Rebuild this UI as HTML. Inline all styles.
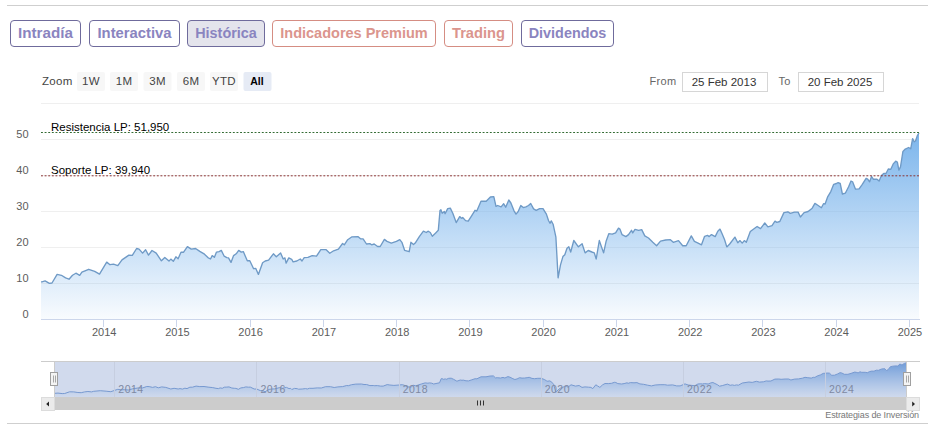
<!DOCTYPE html>
<html><head><meta charset="utf-8">
<style>
html,body{margin:0;padding:0;background:#fff;}
body{width:939px;height:433px;position:relative;overflow:hidden;font-family:"Liberation Sans",sans-serif;}
.hr{position:absolute;left:7px;width:921px;height:1px;background:#cfcfcf;}
.tab{position:absolute;top:20px;height:25px;box-sizing:content-box;border:1px solid #6f6b9c;border-radius:4px;
 font-weight:bold;font-size:15px;line-height:24px;text-align:center;color:#8a84c0;background:#fff;letter-spacing:0;}
.tab.sal{border-color:#d58d83;color:#db958d;}
.tab.act{background:#e4e4ec;}
svg{position:absolute;left:0;top:0;}
.ax{font-size:11px;fill:#5c5c5c;letter-spacing:0;}
.nv{font-size:10.5px;fill:#7f89a2;letter-spacing:0.5px;}
.rs{font-size:11.5px;fill:#444;letter-spacing:0.3px;}
.dt{font-size:11.5px;fill:#333;letter-spacing:0;}
.ft{font-size:11px;fill:#666;letter-spacing:0.3px;}
.pl{font-size:11.5px;fill:#000;letter-spacing:0;}
</style></head><body>
<div class="hr" style="top:5px"></div>
<div class="hr" style="top:423px"></div>
<div class="tab" style="left:10px;width:69px;font-size:15.2px">Intradía</div>
<div class="tab" style="left:89px;width:89px;font-size:14.8px">Interactiva</div>
<div class="tab act" style="left:187px;width:76px;font-size:14.4px">Histórica</div>
<div class="tab sal" style="left:272px;width:162px;font-size:14.5px">Indicadores Premium</div>
<div class="tab sal" style="left:444px;width:67px;font-size:14.7px">Trading</div>
<div class="tab" style="left:521px;width:91px;font-size:14.4px">Dividendos</div>
<svg width="939" height="433" viewBox="0 0 939 433" font-family="Liberation Sans, sans-serif">
<defs>
<linearGradient id="g" x1="0" y1="133" x2="0" y2="319" gradientUnits="userSpaceOnUse">
<stop offset="0" stop-color="#7cb5ec" stop-opacity="1"/>
<stop offset="1" stop-color="#7cb5ec" stop-opacity="0.05"/>
</linearGradient>
<linearGradient id="ng" x1="0" y1="361" x2="0" y2="397" gradientUnits="userSpaceOnUse">
<stop offset="0" stop-color="#5f97dc" stop-opacity="0.9"/>
<stop offset="1" stop-color="#7cb5ec" stop-opacity="0.02"/>
</linearGradient>
</defs>
<!-- range selector -->
<text x="42" y="85" class="rs">Zoom</text>
<g>
<rect x="77" y="72" width="28" height="19" rx="2" fill="#f7f7f7"/>
<rect x="110" y="72" width="28" height="19" rx="2" fill="#f7f7f7"/>
<rect x="143.5" y="72" width="28" height="19" rx="2" fill="#f7f7f7"/>
<rect x="177" y="72" width="28" height="19" rx="2" fill="#f7f7f7"/>
<rect x="210" y="72" width="28" height="19" rx="2" fill="#f7f7f7"/>
<rect x="243.5" y="72" width="28" height="19" rx="2" fill="#e6ebf5"/>
<text x="91" y="85" text-anchor="middle" class="rs">1W</text>
<text x="124" y="85" text-anchor="middle" class="rs">1M</text>
<text x="157.5" y="85" text-anchor="middle" class="rs">3M</text>
<text x="191" y="85" text-anchor="middle" class="rs">6M</text>
<text x="224" y="85" text-anchor="middle" class="rs">YTD</text>
<text x="257" y="85" text-anchor="middle" class="rs" style="font-weight:bold;fill:#000;letter-spacing:0;font-size:10.5px">All</text>
</g>
<text x="649.5" y="85" class="ft">From</text>
<rect x="682.5" y="72.5" width="85" height="19" fill="#fff" stroke="#d6d6d6"/>
<text x="724" y="85.5" text-anchor="middle" class="dt">25 Feb 2013</text>
<text x="778.5" y="85" class="ft">To</text>
<rect x="798.5" y="72.5" width="85" height="19" fill="#fff" stroke="#d6d6d6"/>
<text x="840" y="85.5" text-anchor="middle" class="dt">20 Feb 2025</text>
<!-- grid -->
<rect x="41" y="103" width="878" height="1" fill="#efefef"/>
<rect x="41" y="139" width="878" height="1" fill="#efefef"/>
<rect x="41" y="175" width="878" height="1" fill="#efefef"/>
<rect x="41" y="211" width="878" height="1" fill="#efefef"/>
<rect x="41" y="247" width="878" height="1" fill="#efefef"/>
<rect x="41" y="283" width="878" height="1" fill="#efefef"/>

<text x="28.6" y="137.5" text-anchor="end" class="ax">50</text>
<text x="28.6" y="173.5" text-anchor="end" class="ax">40</text>
<text x="28.6" y="209.5" text-anchor="end" class="ax">30</text>
<text x="28.6" y="245.5" text-anchor="end" class="ax">20</text>
<text x="28.6" y="281.5" text-anchor="end" class="ax">10</text>
<text x="28.6" y="317.5" text-anchor="end" class="ax">0</text>

<!-- series -->
<path d="M41.0 281.8 L42.0 281.8 L45.1 280.9 L49.4 283.3 L52.0 283.0 L57.1 274.4 L61.4 275.3 L65.6 277.9 L69.0 279.2 L72.5 275.3 L75.9 273.2 L79.7 275.3 L81.9 272.2 L88.7 269.3 L94.7 271.4 L99.5 274.1 L106.7 262.1 L110.0 264.7 L113.5 264.2 L117.8 265.6 L122.0 259.9 L128.9 255.1 L132.3 255.3 L136.6 248.5 L139.1 249.1 L142.6 253.1 L145.6 249.7 L148.5 255.1 L152.0 250.5 L156.2 253.1 L161.4 260.8 L164.8 257.4 L169.0 261.1 L170.8 259.1 L173.3 261.3 L175.9 256.8 L178.1 258.7 L181.0 252.2 L183.6 252.2 L187.4 246.6 L191.3 249.1 L195.6 248.5 L199.8 251.4 L204.5 254.2 L207.9 257.6 L210.5 259.0 L212.2 255.6 L214.4 257.3 L216.5 252.1 L219.1 251.6 L221.3 250.4 L224.2 256.2 L226.8 257.6 L228.5 257.9 L231.0 262.4 L233.6 255.6 L236.2 253.8 L238.7 250.4 L241.3 252.1 L243.3 251.6 L247.3 260.7 L249.8 260.7 L253.6 268.7 L255.8 268.4 L258.4 274.4 L262.6 262.7 L265.2 261.0 L268.6 260.2 L273.4 253.8 L276.3 256.8 L280.6 253.0 L283.2 259.0 L284.9 257.9 L286.1 263.1 L288.8 257.9 L291.7 259.3 L293.1 261.9 L296.8 261.0 L300.3 259.0 L302.0 261.0 L304.2 257.6 L307.9 257.3 L312.2 255.6 L316.5 256.2 L320.8 249.6 L325.9 249.6 L329.8 253.3 L333.6 250.8 L338.4 249.1 L342.6 243.5 L344.3 244.8 L347.7 239.7 L352.0 236.8 L357.9 236.6 L360.5 238.8 L363.1 238.8 L366.5 244.0 L369.9 243.6 L371.6 244.8 L374.2 244.0 L377.6 246.5 L380.2 246.5 L384.4 239.4 L387.0 241.4 L391.3 243.1 L396.4 241.4 L399.8 239.7 L401.9 242.3 L404.6 250.3 L409.2 251.7 L410.9 242.3 L413.5 244.5 L415.2 243.1 L419.5 236.3 L423.4 231.2 L426.3 232.5 L428.0 231.2 L430.3 232.5 L432.3 236.3 L435.7 232.9 L438.3 230.3 L440.0 210.6 L440.9 209.8 L442.2 213.2 L444.3 211.5 L445.1 213.7 L447.7 208.6 L450.3 208.1 L452.8 213.2 L456.2 222.6 L459.7 216.6 L461.4 218.3 L462.7 217.5 L465.6 220.6 L468.2 221.2 L471.6 215.8 L475.0 210.3 L476.8 211.0 L481.0 201.2 L486.2 201.2 L490.4 197.0 L493.8 196.6 L496.0 206.4 L497.7 205.5 L501.1 206.9 L503.7 203.8 L505.7 207.2 L508.8 200.0 L510.9 203.0 L513.9 210.6 L516.0 214.1 L518.2 211.5 L520.8 205.5 L523.3 207.6 L525.9 206.9 L528.5 205.5 L530.7 203.5 L533.6 208.9 L536.2 210.3 L539.6 208.6 L543.0 208.6 L546.4 214.1 L548.5 220.5 L550.0 223.3 L551.3 220.9 L553.1 224.2 L555.9 237.2 L558.1 277.8 L560.5 264.9 L562.9 256.6 L564.8 254.7 L567.0 248.3 L568.8 246.8 L570.7 252.0 L573.8 240.5 L578.4 246.8 L582.1 243.7 L585.1 252.9 L588.2 250.5 L591.9 252.0 L594.3 252.9 L596.2 259.0 L599.3 240.5 L601.1 245.7 L603.6 252.9 L606.2 240.9 L608.8 233.7 L612.2 234.2 L615.6 232.9 L618.5 228.1 L619.9 229.1 L622.0 234.6 L625.9 236.6 L628.5 234.6 L631.5 230.3 L632.7 232.9 L635.0 229.4 L638.7 230.3 L641.7 229.6 L644.8 235.9 L648.5 238.0 L652.8 242.3 L656.6 245.7 L660.5 241.1 L665.6 240.0 L670.4 239.7 L673.3 242.3 L678.5 240.6 L682.7 245.7 L686.2 245.7 L691.3 235.9 L694.4 241.4 L698.1 243.1 L701.5 244.8 L704.6 236.3 L707.5 235.4 L709.2 236.6 L711.5 234.6 L715.2 236.6 L717.8 231.2 L720.0 229.1 L722.1 233.7 L724.6 239.7 L726.8 246.9 L729.7 244.0 L734.9 237.1 L737.8 242.8 L740.0 240.6 L742.2 243.1 L744.3 240.6 L746.3 242.3 L750.3 231.5 L757.1 226.5 L760.5 228.6 L764.8 223.0 L767.9 226.9 L772.0 225.7 L775.0 221.2 L776.8 222.3 L779.8 221.5 L783.9 212.6 L787.9 211.8 L790.3 213.4 L794.4 212.1 L798.1 212.1 L800.4 217.0 L804.1 212.6 L808.1 211.5 L812.2 208.2 L814.9 203.4 L817.8 205.3 L821.4 207.7 L823.5 203.7 L825.1 204.0 L827.5 197.2 L830.8 191.6 L833.7 184.3 L836.4 183.5 L838.1 182.7 L840.2 183.5 L842.4 194.0 L845.3 193.2 L848.6 186.7 L851.0 181.0 L852.6 181.8 L855.4 189.1 L859.1 188.8 L862.3 184.3 L866.1 178.3 L867.7 179.1 L869.6 181.8 L871.6 176.5 L873.3 179.2 L877.0 179.2 L879.1 181.0 L881.5 175.5 L883.7 173.4 L886.0 173.5 L888.3 169.0 L890.8 169.3 L893.2 163.9 L895.7 161.2 L897.3 162.0 L898.9 170.1 L900.5 166.9 L902.9 151.5 L905.3 149.1 L908.6 147.5 L910.7 148.8 L912.6 138.6 L914.2 141.8 L915.5 141.0 L917.5 135.3 L919.0 133.0 L919 319.5 L41 319.5 Z" fill="url(#g)"/>
<path d="M41.0 281.8 L42.0 281.8 L45.1 280.9 L49.4 283.3 L52.0 283.0 L57.1 274.4 L61.4 275.3 L65.6 277.9 L69.0 279.2 L72.5 275.3 L75.9 273.2 L79.7 275.3 L81.9 272.2 L88.7 269.3 L94.7 271.4 L99.5 274.1 L106.7 262.1 L110.0 264.7 L113.5 264.2 L117.8 265.6 L122.0 259.9 L128.9 255.1 L132.3 255.3 L136.6 248.5 L139.1 249.1 L142.6 253.1 L145.6 249.7 L148.5 255.1 L152.0 250.5 L156.2 253.1 L161.4 260.8 L164.8 257.4 L169.0 261.1 L170.8 259.1 L173.3 261.3 L175.9 256.8 L178.1 258.7 L181.0 252.2 L183.6 252.2 L187.4 246.6 L191.3 249.1 L195.6 248.5 L199.8 251.4 L204.5 254.2 L207.9 257.6 L210.5 259.0 L212.2 255.6 L214.4 257.3 L216.5 252.1 L219.1 251.6 L221.3 250.4 L224.2 256.2 L226.8 257.6 L228.5 257.9 L231.0 262.4 L233.6 255.6 L236.2 253.8 L238.7 250.4 L241.3 252.1 L243.3 251.6 L247.3 260.7 L249.8 260.7 L253.6 268.7 L255.8 268.4 L258.4 274.4 L262.6 262.7 L265.2 261.0 L268.6 260.2 L273.4 253.8 L276.3 256.8 L280.6 253.0 L283.2 259.0 L284.9 257.9 L286.1 263.1 L288.8 257.9 L291.7 259.3 L293.1 261.9 L296.8 261.0 L300.3 259.0 L302.0 261.0 L304.2 257.6 L307.9 257.3 L312.2 255.6 L316.5 256.2 L320.8 249.6 L325.9 249.6 L329.8 253.3 L333.6 250.8 L338.4 249.1 L342.6 243.5 L344.3 244.8 L347.7 239.7 L352.0 236.8 L357.9 236.6 L360.5 238.8 L363.1 238.8 L366.5 244.0 L369.9 243.6 L371.6 244.8 L374.2 244.0 L377.6 246.5 L380.2 246.5 L384.4 239.4 L387.0 241.4 L391.3 243.1 L396.4 241.4 L399.8 239.7 L401.9 242.3 L404.6 250.3 L409.2 251.7 L410.9 242.3 L413.5 244.5 L415.2 243.1 L419.5 236.3 L423.4 231.2 L426.3 232.5 L428.0 231.2 L430.3 232.5 L432.3 236.3 L435.7 232.9 L438.3 230.3 L440.0 210.6 L440.9 209.8 L442.2 213.2 L444.3 211.5 L445.1 213.7 L447.7 208.6 L450.3 208.1 L452.8 213.2 L456.2 222.6 L459.7 216.6 L461.4 218.3 L462.7 217.5 L465.6 220.6 L468.2 221.2 L471.6 215.8 L475.0 210.3 L476.8 211.0 L481.0 201.2 L486.2 201.2 L490.4 197.0 L493.8 196.6 L496.0 206.4 L497.7 205.5 L501.1 206.9 L503.7 203.8 L505.7 207.2 L508.8 200.0 L510.9 203.0 L513.9 210.6 L516.0 214.1 L518.2 211.5 L520.8 205.5 L523.3 207.6 L525.9 206.9 L528.5 205.5 L530.7 203.5 L533.6 208.9 L536.2 210.3 L539.6 208.6 L543.0 208.6 L546.4 214.1 L548.5 220.5 L550.0 223.3 L551.3 220.9 L553.1 224.2 L555.9 237.2 L558.1 277.8 L560.5 264.9 L562.9 256.6 L564.8 254.7 L567.0 248.3 L568.8 246.8 L570.7 252.0 L573.8 240.5 L578.4 246.8 L582.1 243.7 L585.1 252.9 L588.2 250.5 L591.9 252.0 L594.3 252.9 L596.2 259.0 L599.3 240.5 L601.1 245.7 L603.6 252.9 L606.2 240.9 L608.8 233.7 L612.2 234.2 L615.6 232.9 L618.5 228.1 L619.9 229.1 L622.0 234.6 L625.9 236.6 L628.5 234.6 L631.5 230.3 L632.7 232.9 L635.0 229.4 L638.7 230.3 L641.7 229.6 L644.8 235.9 L648.5 238.0 L652.8 242.3 L656.6 245.7 L660.5 241.1 L665.6 240.0 L670.4 239.7 L673.3 242.3 L678.5 240.6 L682.7 245.7 L686.2 245.7 L691.3 235.9 L694.4 241.4 L698.1 243.1 L701.5 244.8 L704.6 236.3 L707.5 235.4 L709.2 236.6 L711.5 234.6 L715.2 236.6 L717.8 231.2 L720.0 229.1 L722.1 233.7 L724.6 239.7 L726.8 246.9 L729.7 244.0 L734.9 237.1 L737.8 242.8 L740.0 240.6 L742.2 243.1 L744.3 240.6 L746.3 242.3 L750.3 231.5 L757.1 226.5 L760.5 228.6 L764.8 223.0 L767.9 226.9 L772.0 225.7 L775.0 221.2 L776.8 222.3 L779.8 221.5 L783.9 212.6 L787.9 211.8 L790.3 213.4 L794.4 212.1 L798.1 212.1 L800.4 217.0 L804.1 212.6 L808.1 211.5 L812.2 208.2 L814.9 203.4 L817.8 205.3 L821.4 207.7 L823.5 203.7 L825.1 204.0 L827.5 197.2 L830.8 191.6 L833.7 184.3 L836.4 183.5 L838.1 182.7 L840.2 183.5 L842.4 194.0 L845.3 193.2 L848.6 186.7 L851.0 181.0 L852.6 181.8 L855.4 189.1 L859.1 188.8 L862.3 184.3 L866.1 178.3 L867.7 179.1 L869.6 181.8 L871.6 176.5 L873.3 179.2 L877.0 179.2 L879.1 181.0 L881.5 175.5 L883.7 173.4 L886.0 173.5 L888.3 169.0 L890.8 169.3 L893.2 163.9 L895.7 161.2 L897.3 162.0 L898.9 170.1 L900.5 166.9 L902.9 151.5 L905.3 149.1 L908.6 147.5 L910.7 148.8 L912.6 138.6 L914.2 141.8 L915.5 141.0 L917.5 135.3 L919.0 133.0" fill="none" stroke="#6f9ac6" stroke-width="1.35" stroke-linejoin="round"/>
<!-- plot lines -->
<line x1="41" y1="132.5" x2="919.5" y2="132.5" stroke="#336b33" stroke-width="1" stroke-dasharray="1.9,1.72"/>
<line x1="41" y1="175.8" x2="919.5" y2="175.8" stroke="#8c3434" stroke-width="1" stroke-dasharray="1.9,1.72"/>
<text x="51" y="130.7" class="pl">Resistencia LP: 51,950</text>
<text x="51" y="173.7" class="pl">Soporte LP: 39,940</text>
<!-- x axis -->
<rect x="41" y="319" width="879" height="1" fill="#ccd6eb"/>
<rect x="103" y="319" width="1" height="8" fill="#ccd6eb"/>
<text x="104.2" y="336" text-anchor="middle" class="ax">2014</text>
<rect x="176" y="319" width="1" height="8" fill="#ccd6eb"/>
<text x="177.4" y="336" text-anchor="middle" class="ax">2015</text>
<rect x="250" y="319" width="1" height="8" fill="#ccd6eb"/>
<text x="250.6" y="336" text-anchor="middle" class="ax">2016</text>
<rect x="323" y="319" width="1" height="8" fill="#ccd6eb"/>
<text x="324.0" y="336" text-anchor="middle" class="ax">2017</text>
<rect x="396" y="319" width="1" height="8" fill="#ccd6eb"/>
<text x="397.2" y="336" text-anchor="middle" class="ax">2018</text>
<rect x="469" y="319" width="1" height="8" fill="#ccd6eb"/>
<text x="470.4" y="336" text-anchor="middle" class="ax">2019</text>
<rect x="543" y="319" width="1" height="8" fill="#ccd6eb"/>
<text x="543.6" y="336" text-anchor="middle" class="ax">2020</text>
<rect x="616" y="319" width="1" height="8" fill="#ccd6eb"/>
<text x="617.0" y="336" text-anchor="middle" class="ax">2021</text>
<rect x="689" y="319" width="1" height="8" fill="#ccd6eb"/>
<text x="690.2" y="336" text-anchor="middle" class="ax">2022</text>
<rect x="762" y="319" width="1" height="8" fill="#ccd6eb"/>
<text x="763.4" y="336" text-anchor="middle" class="ax">2023</text>
<rect x="836" y="319" width="1" height="8" fill="#ccd6eb"/>
<text x="836.6" y="336" text-anchor="middle" class="ax">2024</text>
<rect x="909" y="319" width="1" height="8" fill="#ccd6eb"/>
<text x="910.0" y="336" text-anchor="middle" class="ax">2025</text>

<!-- navigator -->
<path d="M54.0 393.3 L55.0 393.3 L58.0 393.1 L62.2 393.6 L64.7 393.5 L69.6 391.8 L73.8 391.9 L77.9 392.5 L81.2 392.7 L84.6 391.9 L87.9 391.5 L91.6 391.9 L93.7 391.3 L100.3 390.7 L106.1 391.2 L110.8 391.7 L117.8 389.3 L121.0 389.8 L124.4 389.7 L128.5 390.0 L132.6 388.8 L139.3 387.8 L142.6 387.9 L146.8 386.5 L149.2 386.6 L152.6 387.4 L155.5 386.7 L158.3 387.8 L161.7 386.9 L165.8 387.4 L170.8 389.0 L174.1 388.3 L178.2 389.0 L180.0 388.6 L182.4 389.1 L184.9 388.2 L187.0 388.6 L189.9 387.2 L192.4 387.2 L196.1 386.1 L199.8 386.6 L204.0 386.5 L208.1 387.1 L212.7 387.6 L216.0 388.3 L218.5 388.6 L220.1 387.9 L222.3 388.3 L224.3 387.2 L226.8 387.1 L229.0 386.9 L231.8 388.0 L234.3 388.3 L235.9 388.4 L238.4 389.3 L240.9 387.9 L243.4 387.6 L245.8 386.9 L248.4 387.2 L250.3 387.1 L254.2 389.0 L256.6 389.0 L260.3 390.6 L262.4 390.5 L265.0 391.8 L269.0 389.4 L271.6 389.0 L274.9 388.9 L279.5 387.6 L282.3 388.2 L286.5 387.4 L289.0 388.6 L290.7 388.4 L291.8 389.5 L294.5 388.4 L297.3 388.7 L298.6 389.2 L302.2 389.0 L305.6 388.6 L307.3 389.0 L309.4 388.3 L313.0 388.3 L317.2 387.9 L321.3 388.0 L325.5 386.7 L330.5 386.7 L334.2 387.5 L337.9 386.9 L342.6 386.6 L346.7 385.5 L348.3 385.7 L351.6 384.7 L355.8 384.1 L361.5 384.0 L364.0 384.5 L366.6 384.5 L369.9 385.6 L373.2 385.5 L374.8 385.7 L377.3 385.6 L380.6 386.1 L383.2 386.1 L387.2 384.6 L389.8 385.0 L393.9 385.4 L398.9 385.0 L402.2 384.7 L404.2 385.2 L406.8 386.8 L411.3 387.1 L412.9 385.2 L415.5 385.7 L417.1 385.4 L421.3 384.0 L425.1 382.9 L427.9 383.2 L429.5 382.9 L431.8 383.2 L433.7 384.0 L437.0 383.3 L439.5 382.8 L441.2 378.7 L442.1 378.6 L443.3 379.3 L445.4 378.9 L446.1 379.4 L448.7 378.3 L451.2 378.2 L453.6 379.3 L456.9 381.2 L460.3 380.0 L462.0 380.3 L463.2 380.1 L466.0 380.8 L468.5 380.9 L471.8 379.8 L475.1 378.7 L476.9 378.8 L481.0 376.8 L486.0 376.8 L490.1 376.0 L493.4 375.9 L495.5 377.9 L497.2 377.7 L500.5 378.0 L503.0 377.4 L504.9 378.0 L507.9 376.6 L510.0 377.2 L512.9 378.7 L514.9 379.5 L517.1 378.9 L519.6 377.7 L522.0 378.1 L524.5 378.0 L527.1 377.7 L529.2 377.3 L532.0 378.4 L534.5 378.7 L537.8 378.3 L541.1 378.3 L544.4 379.5 L546.5 380.8 L547.9 381.3 L549.2 380.8 L550.9 381.5 L553.7 384.2 L555.8 392.5 L558.1 389.8 L560.4 388.1 L562.3 387.7 L564.4 386.4 L566.2 386.1 L568.0 387.2 L571.0 384.8 L575.5 386.1 L579.1 385.5 L582.0 387.4 L585.0 386.9 L588.6 387.2 L590.9 387.4 L592.8 388.6 L595.8 384.8 L597.5 385.9 L599.9 387.4 L602.5 384.9 L605.0 383.5 L608.3 383.6 L611.6 383.3 L614.4 382.3 L615.8 382.5 L617.8 383.6 L621.6 384.0 L624.1 383.6 L627.0 382.8 L628.2 383.3 L630.4 382.6 L634.0 382.8 L636.9 382.6 L639.9 383.9 L643.5 384.3 L647.7 385.2 L651.4 385.9 L655.2 385.0 L660.1 384.7 L664.8 384.7 L667.6 385.2 L672.6 384.9 L676.7 385.9 L680.1 385.9 L685.0 383.9 L688.1 385.0 L691.6 385.4 L694.9 385.7 L697.9 384.0 L700.8 383.8 L702.4 384.0 L704.6 383.6 L708.2 384.0 L710.8 382.9 L712.9 382.5 L714.9 383.5 L717.4 384.7 L719.5 386.2 L722.3 385.6 L727.4 384.1 L730.2 385.3 L732.3 384.9 L734.4 385.4 L736.5 384.9 L738.4 385.2 L742.3 383.0 L748.9 382.0 L752.2 382.4 L756.4 381.3 L759.4 382.1 L763.4 381.8 L766.3 380.9 L768.0 381.1 L770.9 381.0 L774.9 379.1 L778.8 379.0 L781.1 379.3 L785.1 379.0 L788.7 379.0 L790.9 380.0 L794.5 379.1 L798.4 378.9 L802.4 378.2 L805.0 377.3 L807.8 377.7 L811.3 378.1 L813.3 377.3 L814.9 377.4 L817.2 376.0 L820.4 374.9 L823.2 373.4 L825.8 373.2 L827.5 373.0 L829.5 373.2 L831.7 375.3 L834.5 375.2 L837.7 373.9 L840.0 372.7 L841.6 372.9 L844.3 374.3 L847.9 374.3 L851.0 373.4 L854.7 372.1 L856.2 372.3 L858.1 372.9 L860.0 371.8 L861.7 372.3 L865.2 372.3 L867.3 372.7 L869.6 371.6 L871.7 371.1 L874.0 371.2 L876.2 370.2 L878.6 370.3 L881.0 369.2 L883.4 368.7 L884.9 368.8 L886.5 370.5 L888.0 369.8 L890.4 366.7 L892.7 366.2 L895.9 365.9 L897.9 366.1 L899.8 364.0 L901.3 364.7 L902.6 364.5 L904.5 363.4 L906.0 362.9 L906.0 397 L54.0 397 Z" fill="url(#ng)"/>
<path d="M54.0 393.3 L55.0 393.3 L58.0 393.1 L62.2 393.6 L64.7 393.5 L69.6 391.8 L73.8 391.9 L77.9 392.5 L81.2 392.7 L84.6 391.9 L87.9 391.5 L91.6 391.9 L93.7 391.3 L100.3 390.7 L106.1 391.2 L110.8 391.7 L117.8 389.3 L121.0 389.8 L124.4 389.7 L128.5 390.0 L132.6 388.8 L139.3 387.8 L142.6 387.9 L146.8 386.5 L149.2 386.6 L152.6 387.4 L155.5 386.7 L158.3 387.8 L161.7 386.9 L165.8 387.4 L170.8 389.0 L174.1 388.3 L178.2 389.0 L180.0 388.6 L182.4 389.1 L184.9 388.2 L187.0 388.6 L189.9 387.2 L192.4 387.2 L196.1 386.1 L199.8 386.6 L204.0 386.5 L208.1 387.1 L212.7 387.6 L216.0 388.3 L218.5 388.6 L220.1 387.9 L222.3 388.3 L224.3 387.2 L226.8 387.1 L229.0 386.9 L231.8 388.0 L234.3 388.3 L235.9 388.4 L238.4 389.3 L240.9 387.9 L243.4 387.6 L245.8 386.9 L248.4 387.2 L250.3 387.1 L254.2 389.0 L256.6 389.0 L260.3 390.6 L262.4 390.5 L265.0 391.8 L269.0 389.4 L271.6 389.0 L274.9 388.9 L279.5 387.6 L282.3 388.2 L286.5 387.4 L289.0 388.6 L290.7 388.4 L291.8 389.5 L294.5 388.4 L297.3 388.7 L298.6 389.2 L302.2 389.0 L305.6 388.6 L307.3 389.0 L309.4 388.3 L313.0 388.3 L317.2 387.9 L321.3 388.0 L325.5 386.7 L330.5 386.7 L334.2 387.5 L337.9 386.9 L342.6 386.6 L346.7 385.5 L348.3 385.7 L351.6 384.7 L355.8 384.1 L361.5 384.0 L364.0 384.5 L366.6 384.5 L369.9 385.6 L373.2 385.5 L374.8 385.7 L377.3 385.6 L380.6 386.1 L383.2 386.1 L387.2 384.6 L389.8 385.0 L393.9 385.4 L398.9 385.0 L402.2 384.7 L404.2 385.2 L406.8 386.8 L411.3 387.1 L412.9 385.2 L415.5 385.7 L417.1 385.4 L421.3 384.0 L425.1 382.9 L427.9 383.2 L429.5 382.9 L431.8 383.2 L433.7 384.0 L437.0 383.3 L439.5 382.8 L441.2 378.7 L442.1 378.6 L443.3 379.3 L445.4 378.9 L446.1 379.4 L448.7 378.3 L451.2 378.2 L453.6 379.3 L456.9 381.2 L460.3 380.0 L462.0 380.3 L463.2 380.1 L466.0 380.8 L468.5 380.9 L471.8 379.8 L475.1 378.7 L476.9 378.8 L481.0 376.8 L486.0 376.8 L490.1 376.0 L493.4 375.9 L495.5 377.9 L497.2 377.7 L500.5 378.0 L503.0 377.4 L504.9 378.0 L507.9 376.6 L510.0 377.2 L512.9 378.7 L514.9 379.5 L517.1 378.9 L519.6 377.7 L522.0 378.1 L524.5 378.0 L527.1 377.7 L529.2 377.3 L532.0 378.4 L534.5 378.7 L537.8 378.3 L541.1 378.3 L544.4 379.5 L546.5 380.8 L547.9 381.3 L549.2 380.8 L550.9 381.5 L553.7 384.2 L555.8 392.5 L558.1 389.8 L560.4 388.1 L562.3 387.7 L564.4 386.4 L566.2 386.1 L568.0 387.2 L571.0 384.8 L575.5 386.1 L579.1 385.5 L582.0 387.4 L585.0 386.9 L588.6 387.2 L590.9 387.4 L592.8 388.6 L595.8 384.8 L597.5 385.9 L599.9 387.4 L602.5 384.9 L605.0 383.5 L608.3 383.6 L611.6 383.3 L614.4 382.3 L615.8 382.5 L617.8 383.6 L621.6 384.0 L624.1 383.6 L627.0 382.8 L628.2 383.3 L630.4 382.6 L634.0 382.8 L636.9 382.6 L639.9 383.9 L643.5 384.3 L647.7 385.2 L651.4 385.9 L655.2 385.0 L660.1 384.7 L664.8 384.7 L667.6 385.2 L672.6 384.9 L676.7 385.9 L680.1 385.9 L685.0 383.9 L688.1 385.0 L691.6 385.4 L694.9 385.7 L697.9 384.0 L700.8 383.8 L702.4 384.0 L704.6 383.6 L708.2 384.0 L710.8 382.9 L712.9 382.5 L714.9 383.5 L717.4 384.7 L719.5 386.2 L722.3 385.6 L727.4 384.1 L730.2 385.3 L732.3 384.9 L734.4 385.4 L736.5 384.9 L738.4 385.2 L742.3 383.0 L748.9 382.0 L752.2 382.4 L756.4 381.3 L759.4 382.1 L763.4 381.8 L766.3 380.9 L768.0 381.1 L770.9 381.0 L774.9 379.1 L778.8 379.0 L781.1 379.3 L785.1 379.0 L788.7 379.0 L790.9 380.0 L794.5 379.1 L798.4 378.9 L802.4 378.2 L805.0 377.3 L807.8 377.7 L811.3 378.1 L813.3 377.3 L814.9 377.4 L817.2 376.0 L820.4 374.9 L823.2 373.4 L825.8 373.2 L827.5 373.0 L829.5 373.2 L831.7 375.3 L834.5 375.2 L837.7 373.9 L840.0 372.7 L841.6 372.9 L844.3 374.3 L847.9 374.3 L851.0 373.4 L854.7 372.1 L856.2 372.3 L858.1 372.9 L860.0 371.8 L861.7 372.3 L865.2 372.3 L867.3 372.7 L869.6 371.6 L871.7 371.1 L874.0 371.2 L876.2 370.2 L878.6 370.3 L881.0 369.2 L883.4 368.7 L884.9 368.8 L886.5 370.5 L888.0 369.8 L890.4 366.7 L892.7 366.2 L895.9 365.9 L897.9 366.1 L899.8 364.0 L901.3 364.7 L902.6 364.5 L904.5 363.4 L906.0 362.9" fill="none" stroke="#7fa3d6" stroke-width="1"/>
<rect x="54" y="361" width="852" height="36" fill="#6685c2" fill-opacity="0.3"/>
<rect x="114" y="361" width="1" height="36" fill="#c6cee0"/>
<text x="118.3" y="393" class="nv">2014</text>
<rect x="256" y="361" width="1" height="36" fill="#c6cee0"/>
<text x="260.4" y="393" class="nv">2016</text>
<rect x="399" y="361" width="1" height="36" fill="#c6cee0"/>
<text x="402.7" y="393" class="nv">2018</text>
<rect x="541" y="361" width="1" height="36" fill="#c6cee0"/>
<text x="544.7" y="393" class="nv">2020</text>
<rect x="683" y="361" width="1" height="36" fill="#c6cee0"/>
<text x="687.0" y="393" class="nv">2022</text>
<rect x="825" y="361" width="1" height="36" fill="#c6cee0"/>
<text x="829.0" y="393" class="nv">2024</text>

<rect x="41" y="361" width="879" height="1" fill="#cccccc"/>
<rect x="54" y="361" width="1" height="36" fill="#cccccc"/>
<rect x="906" y="361" width="1" height="36" fill="#cccccc"/>
<!-- scrollbar -->
<rect x="41" y="397" width="879" height="13" fill="#f2f2f2"/>
<rect x="54" y="397" width="852" height="13" fill="#cccccc"/>
<rect x="41.5" y="397.5" width="13" height="13" fill="#ebebeb" stroke="#dcdcdc"/>
<rect x="906.5" y="397.5" width="13" height="13" fill="#ebebeb" stroke="#dcdcdc"/>
<path d="M49 401.5 L49 406.5 L46.2 404 Z" fill="#222"/>
<path d="M912.2 401.5 L912.2 406.5 L915 404 Z" fill="#222"/>
<path d="M477.5 400.5 V405.5 M480.5 400.5 V405.5 M483.5 400.5 V405.5" stroke="#333" stroke-width="1"/>
<!-- handles -->
<rect x="50.5" y="372.5" width="7" height="13" fill="#f4f4f4" stroke="#a0a0a0"/>
<path d="M53.5 375.5 V382.5 M55.5 375.5 V382.5" stroke="#a8a8a8" stroke-width="1"/>
<rect x="903.5" y="372.5" width="7" height="13" fill="#f4f4f4" stroke="#a0a0a0"/>
<path d="M906.5 375.5 V382.5 M908.5 375.5 V382.5" stroke="#a8a8a8" stroke-width="1"/>
<text x="919" y="418" text-anchor="end" style="font-size:9px;fill:#777;letter-spacing:-0.12px">Estrategias de Inversión</text>
</svg>
</body></html>
